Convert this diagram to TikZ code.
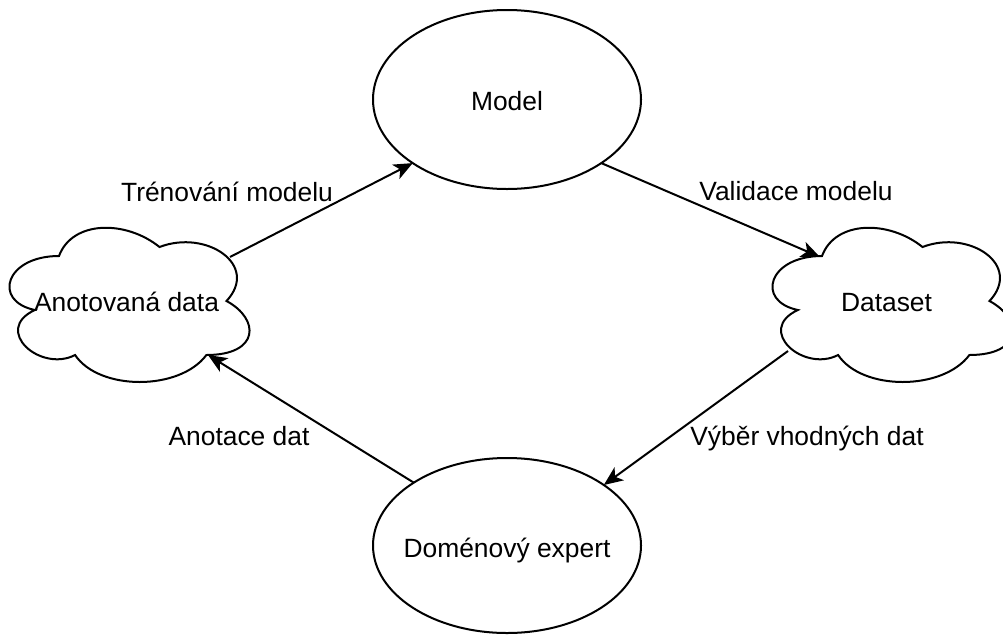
\documentclass[tikz,border=0pt]{standalone}
\usepackage{fontspec}
\setmainfont{Liberation Sans}
\usetikzlibrary{shapes.geometric,arrows.meta}
\tikzset{
  txt/.style={font=\fontsize{26.4pt}{31pt}\selectfont, inner sep=0pt, anchor=base},
  oval/.style={draw, ellipse, line width=2pt, minimum width=268pt, inner sep=0pt, outer sep=0pt},
  cloudline/.style={draw, line width=2pt},
  conn/.style={line width=2pt, -{Stealth[length=19pt,width=16pt,inset=5pt]}}
}
\newcommand{\drawioCloud}{%
  (0.25,0.25) .. controls (0.05,0.25) and (0,0.5) .. (0.16,0.55)
  .. controls (0,0.66) and (0.18,0.9) .. (0.31,0.8)
  .. controls (0.4,1) and (0.7,1) .. (0.8,0.8)
  .. controls (1,0.8) and (1,0.6) .. (0.875,0.5)
  .. controls (1,0.3) and (0.8,0.1) .. (0.625,0.2)
  .. controls (0.5,0.05) and (0.3,0.05) .. (0.25,0.25) -- cycle}
\begin{document}
\begin{tikzpicture}[x=1pt,y=-1pt]
\useasboundingbox (0,0) rectangle (1003,635);
% ellipses
\node[oval, minimum height=179pt] (model) at (507,99.5) {};
\node[oval, minimum height=175pt] (expert) at (507,545.5) {};
% clouds
\begin{scope}[shift={(-8,211)}, x=268pt, y=-180pt]
  \draw[cloudline] \drawioCloud;
\end{scope}
\begin{scope}[shift={(755,211)}, x=268pt, y=-180pt]
  \draw[cloudline] \drawioCloud;
\end{scope}
% cloud connection points
\coordinate (annoOut) at (230,257);
\coordinate (annoIn) at (208,355);
\coordinate (dataIn) at (820,257);
\coordinate (dataOut) at (788,351);
% texts
\node[txt] (modeltext) at (507,110) {Model};
\node[txt] (experttext) at (507,557) {Doménový expert};
\node[txt] (anno) at (126.5,311) {Anotovaná data};
\node[txt] (dataset) at (886.5,311) {Dataset};
% connectors
\draw[conn] (annoOut) -- (model.214.6);
\draw[conn] (model.326.1) -- (dataIn);
\draw[conn] (dataOut) -- (expert.32.6);
\draw[conn] (expert.146.4) -- (annoIn);
% labels
\node[txt] (l1) at (227,201.7) {Trénování modelu};
\node[txt] (l2) at (796,200.7) {Validace modelu};
\node[txt] (l3) at (807,445) {Výběr vhodných dat};
\node[txt] (l4) at (239,445) {Anotace dat};
\end{tikzpicture}
\end{document}
